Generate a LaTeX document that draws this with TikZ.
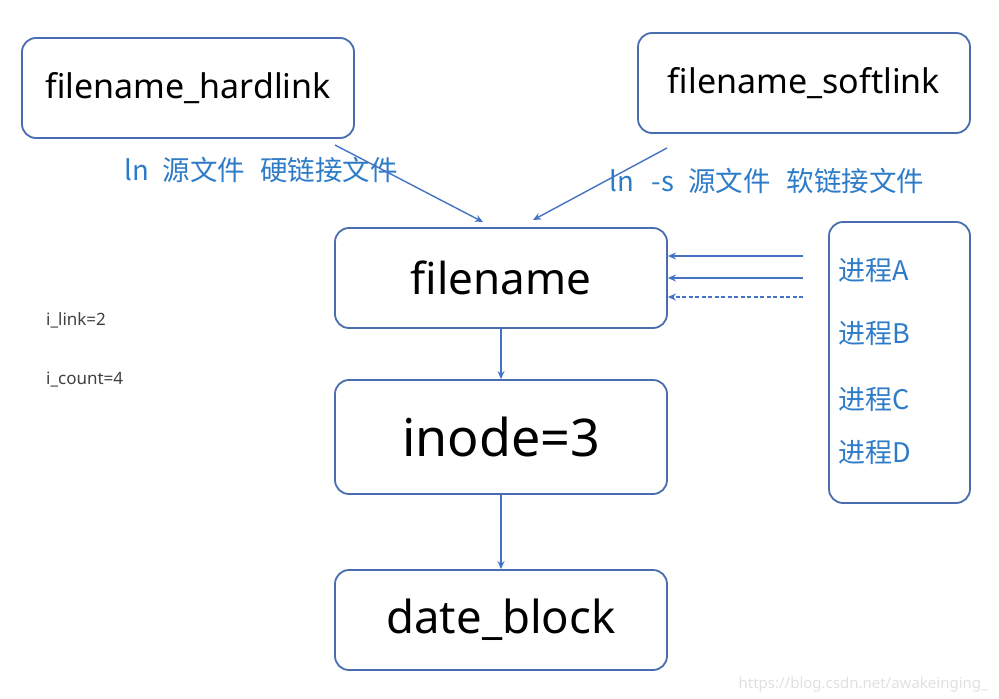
\documentclass[tikz,border=0pt]{standalone}
\usepackage{fontspec}
\setmainfont{Noto Sans}
\newfontfamily\cjk{Noto Sans CJK SC}
\usetikzlibrary{arrows.meta,calc}
\definecolor{boxline}{HTML}{4A6DB0}
\definecolor{arrowblue}{HTML}{4472C4}
\definecolor{labelblue}{HTML}{2E7BC8}
\definecolor{grayText}{HTML}{404040}
\tikzset{
  box/.style={draw=boxline, line width=1.8pt, rounded corners=14pt, inner sep=0pt},
  conn/.style={draw=arrowblue, line width=1.4pt, -{Stealth[length=8pt,width=7pt]}},
  blue label/.style={text=labelblue, inner sep=0pt, anchor=west, font=\cjk\fontsize{27.5}{32}\selectfont},
  proc label/.style={text=labelblue, inner sep=0pt, anchor=west, font=\cjk\fontsize{27}{32}\selectfont},
  small label/.style={text=grayText, inner sep=0pt, anchor=west, font=\fontsize{17}{20}\selectfont},
}
\begin{document}
\begin{tikzpicture}[x=1pt,y=-1pt]
\useasboundingbox (0,0) rectangle (999,699);
% boxes
\node[box, minimum width=332pt, minimum height=100pt, font=\fontsize{34}{40}\selectfont] (hard) at (188,88) {filename\_hardlink};
\node[box, minimum width=332pt, minimum height=100pt, font=\fontsize{34}{40}\selectfont] (soft) at (804,83) {filename\_softlink};
\node[box, minimum width=332pt, minimum height=100pt, font=\fontsize{44}{50}\selectfont] (fn) at (501,278) {filename};
\node[box, minimum width=332pt, minimum height=114pt, font=\fontsize{52}{58}\selectfont] (inode) at (501,437) {inode=3};
\node[box, minimum width=332pt, minimum height=100pt, font=\fontsize{45.5}{50}\selectfont] (blk) at (501,620) {date\_block};
\node[box, minimum width=141pt, minimum height=281pt] (proc) at (899.5,362.5) {};
% labels
\node[blue label] (lhard) at (124,170) {ln\hspace{14pt}源文件\hspace{15pt}硬链接文件};
\node[blue label] (lsoft) at (609,181) {ln\hspace{18pt}-s\hspace{14pt}源文件\hspace{16pt}软链接文件};
\node[proc label] (pA) at (838,270) {进程A};
\node[proc label] (pB) at (838,333) {进程B};
\node[proc label] (pC) at (838,399) {进程C};
\node[proc label] (pD) at (838,452) {进程D};
\node[small label] (ilink) at (46,320) {i\_link=2};
\node[small label] (icount) at (46,380) {i\_count=4};
\node[text=black!12, inner sep=0pt, anchor=south east, font=\fontsize{15}{18}\selectfont] (wm) at (988,692) {https://blog.csdn.net/awakeinging\_};
% connector free ends
\coordinate (hs) at (335,145);
\coordinate (he) at (483,222);
\coordinate (ss) at (667,148);
\coordinate (se) at (533,220);
\coordinate (r1) at (803,256);
\coordinate (r2) at (803,278);
\coordinate (r3) at (803,297);
% connectors
\draw[conn] (hs) -- (he);
\draw[conn] (ss) -- (se);
\draw[conn] (r1) -- (fn.east |- r1);
\draw[conn] (r2) -- (fn.east |- r2);
\draw[conn, dashed, dash pattern=on 4pt off 2.5pt] (r3) -- (fn.east |- r3);
\draw[conn] (fn.south) -- (inode.north);
\draw[conn] (inode.south) -- (blk.north);
\end{tikzpicture}
\end{document}
